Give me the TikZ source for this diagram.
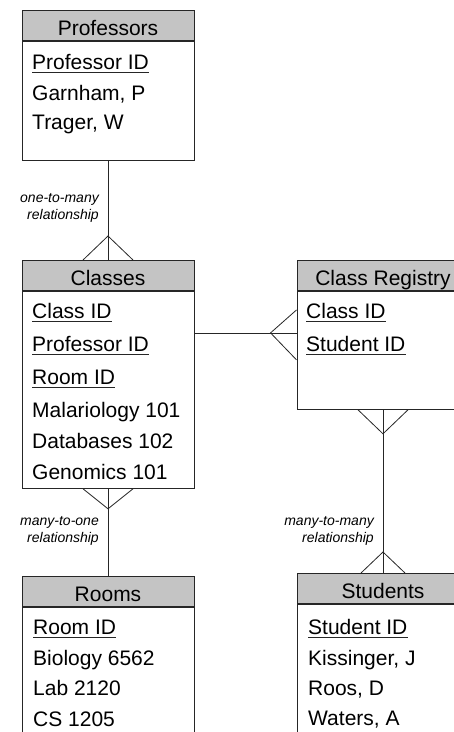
\documentclass[tikz,border=0pt]{standalone}
\usepackage{fontspec}
\setmainfont{Liberation Sans}
\usepackage{tikz}
\usetikzlibrary{positioning,calc}
\tikzstyle{tablehead} = [draw=black!85, line width=0.9pt, fill=black!23, minimum width=172pt,
minimum height=30pt, inner sep=0pt, text height=20pt, text depth=0pt, font=\fontsize{21}{25}\selectfont]
\tikzstyle{tablebody} = [draw=black!85, line width=0.9pt, fill=white, minimum width=172pt, inner sep=0pt]
\tikzstyle{field}     = [anchor=base west, inner sep=0pt, font=\fontsize{21}{25}\selectfont]
\tikzstyle{keyfield}  = [field, append after command={\pgfextra{\draw[line width=1pt, black!85]
([yshift=-3.5pt]\tikzlastnode.base west) -- ([yshift=-3.5pt]\tikzlastnode.base east);}}]
\tikzstyle{relnote}   = [anchor=east, align=right, inner sep=0pt, font=\fontsize{14}{17}\selectfont\itshape]
\tikzstyle{rel}       = [draw=black!85, line width=0.8pt]

\begin{document}
\begin{tikzpicture}[x=1pt, y=-1pt]
\useasboundingbox (0,0) rectangle (454,732);
\clip (0,0) rectangle (454,732);

% tables
\node[tablehead, anchor=north] (profhead) at (108,10) {Professors};
\node[tablebody, minimum height=119pt, below=0pt of profhead] (profbody) {};
\node[keyfield] (profid) at (32,69) {Professor ID};
\node[field] (prof1) at (32,100) {Garnham, P};
\node[field] (prof2) at (32,129) {Trager, W};

\node[tablehead, anchor=north] (classhead) at (108,260) {Classes};
\node[tablebody, minimum height=197pt, below=0pt of classhead] (classbody) {};
\node[keyfield] (classid) at (32,318) {Class ID};
\node[keyfield] (classprof) at (32,351) {Professor ID};
\node[keyfield] (classroom) at (32,384) {Room ID};
\node[field] (class1) at (32,417) {Malariology 101};
\node[field] (class2) at (32,448) {Databases 102};
\node[field] (class3) at (32,479) {Genomics 101};

\node[tablehead, anchor=north] (reghead) at (383,260) {Class Registry};
\node[tablebody, minimum height=118pt, below=0pt of reghead] (regbody) {};
\node[keyfield] (regclass) at (306,318) {Class ID};
\node[keyfield] (regstud) at (306,351) {Student ID};

\node[tablehead, anchor=north] (roomhead) at (108,576) {Rooms};
\node[tablebody, minimum height=200pt, below=0pt of roomhead] (roombody) {};
\node[keyfield] (roomid) at (33,634) {Room ID};
\node[field] (room1) at (33,665) {Biology 6562};
\node[field] (room2) at (33,695) {Lab 2120};
\node[field] (room3) at (33,726) {CS 1205};

\node[tablehead, anchor=north] (studhead) at (383,573) {Students};
\node[tablebody, minimum height=200pt, below=0pt of studhead] (studbody) {};
\node[keyfield] (studid) at (308,634) {Student ID};
\node[field] (stud1) at (308,665) {Kissinger, J};
\node[field] (stud2) at (308,695) {Roos, D};
\node[field] (stud3) at (308,725) {Waters, A};

% relationships
\node[relnote] (onemany) at (99,208) {one-to-many\\relationship};
\node[relnote] (manyone) at (99,531) {many-to-one\\relationship};
\node[relnote] (manymany) at (374,531) {many-to-many\\relationship};

\draw[rel] (profbody.south) -- (classhead.north);
\draw[rel] ($(classhead.north)+(-25,0)$) -- ($(classhead.north)+(0,-24)$) -- ($(classhead.north)+(25,0)$);

\draw[rel] (classbody.south) -- (roomhead.north);
\draw[rel] ($(classbody.south)+(-25,0)$) -- ($(classbody.south)+(0,20)$) -- ($(classbody.south)+(25,0)$);

\coordinate (clsout) at ($(classbody.north east)+(0,42)$);
\coordinate (regin) at (clsout -| regbody.west);
\draw[rel] (clsout) -- (regin);
\draw[rel] ($(regin)+(0,-23)$) -- ($(regin)+(-26,0)$) -- ($(regin)+(0,27)$);

\draw[rel] (regbody.south) -- (studhead.north);
\draw[rel] ($(regbody.south)+(-25,0)$) -- ($(regbody.south)+(0,24)$) -- ($(regbody.south)+(25,0)$);
\draw[rel] ($(studhead.north)+(-22,0)$) -- ($(studhead.north)+(0,-21)$) -- ($(studhead.north)+(22,0)$);

\end{tikzpicture}
\end{document}
